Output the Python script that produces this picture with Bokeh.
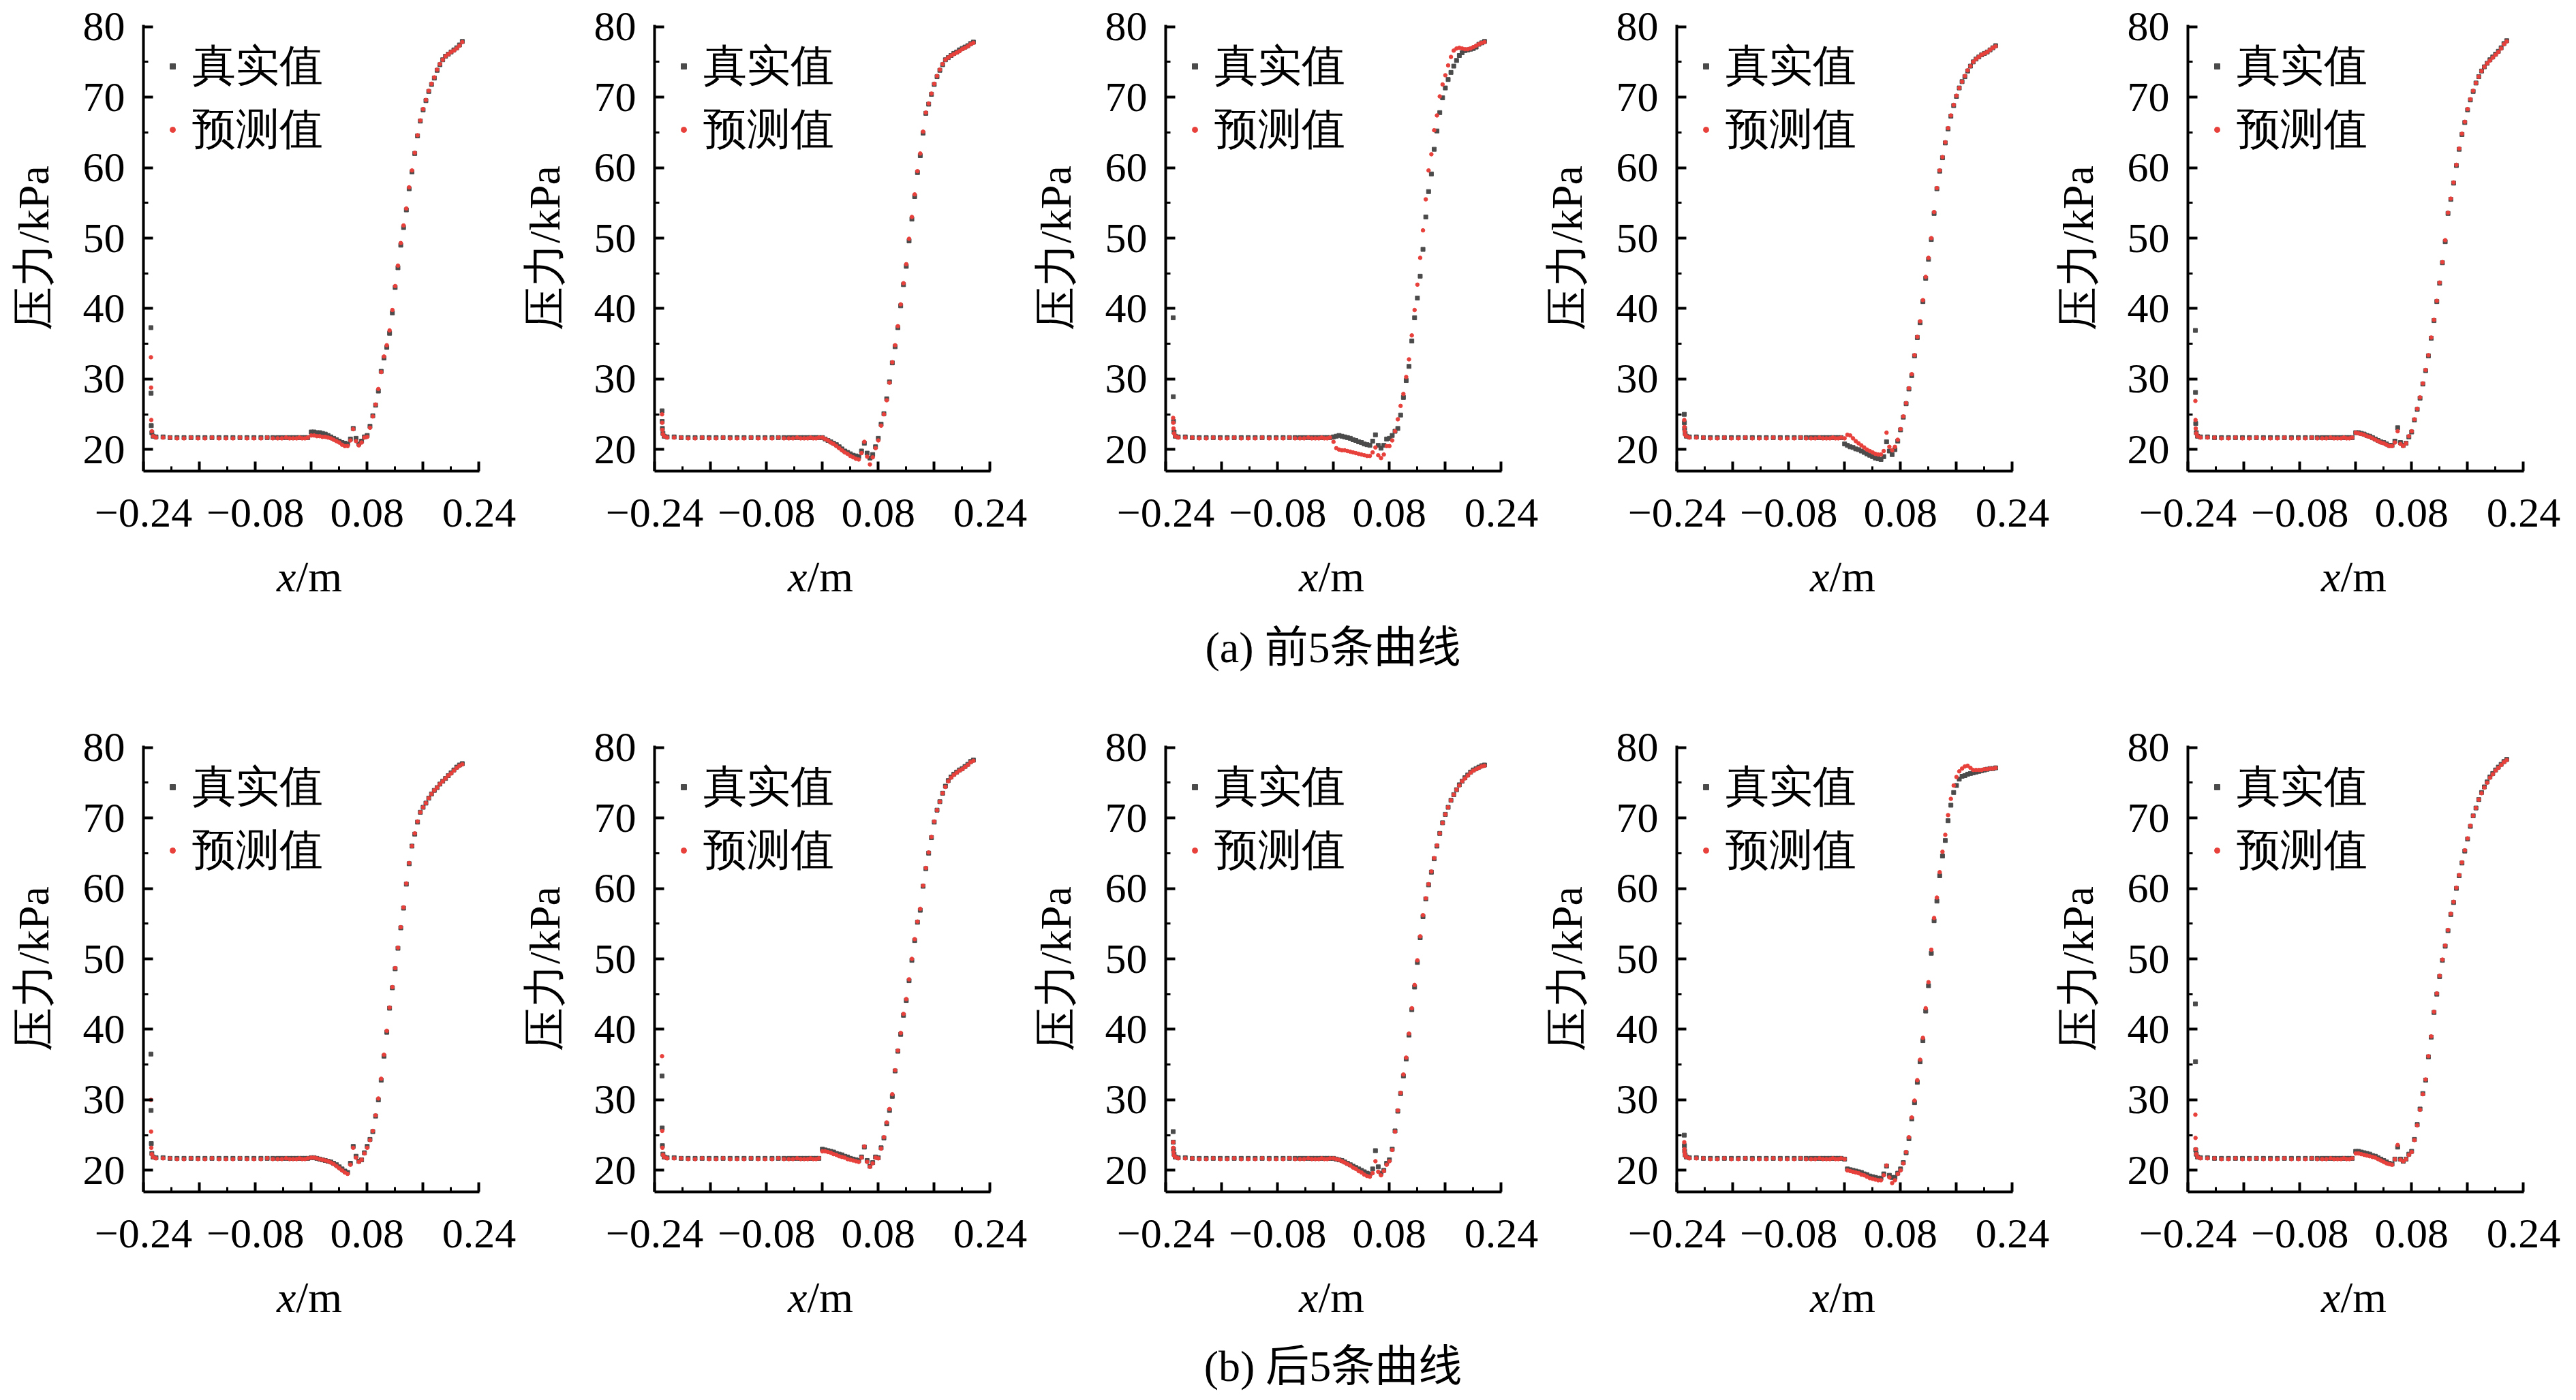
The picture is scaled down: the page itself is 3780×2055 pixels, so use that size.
from bokeh.plotting import figure
from bokeh.layouts import column, row
from bokeh.models import FixedTicker, Legend, LegendItem, Div, Range1d, Spacer
from bokeh.embed import file_html
from bokeh.resources import INLINE

FONT = "Liberation Serif"
GRAY = "#4b4b4b"
RED = "#e8413c"
NAN = float("nan")

# ---------------- data (x in m, pressure in kPa) ----------------
HEAD_X = [-0.2293, -0.2291, -0.2288, -0.2280, -0.2262]
FLAT_X = [-0.222, -0.212, -0.202, -0.192, -0.182, -0.172, -0.162, -0.152, -0.142, -0.132,
          -0.122, -0.112, -0.102, -0.092, -0.082, -0.072, -0.063, -0.055, -0.048, -0.042,
          -0.036, -0.031, -0.026, -0.021, -0.017, -0.013, -0.009, -0.005]
FLAT_TRUE = [21.8, 21.8, 21.7, 21.7, 21.7, 21.7, 21.7, 21.7, 21.7, 21.7,
             21.7, 21.7, 21.7, 21.7, 21.7, 21.7, 21.7, 21.7, 21.7, 21.7,
             21.7, 21.7, 21.7, 21.7, 21.7, 21.7, 21.7, 21.7]
FLAT_PRED = [21.7, 21.7, 21.7, 21.6, 21.6, 21.7, 21.6, 21.6, 21.7, 21.6,
             21.6, 21.6, 21.7, 21.6, 21.6, 21.6, 21.7, 21.6, 21.6, 21.6,
             21.7, 21.6, 21.6, 21.6, 21.7, 21.6, 21.6, 21.7]
BUMP_X = [0.000, 0.004, 0.008, 0.012, 0.016, 0.020, 0.024, 0.028, 0.032, 0.036,
          0.040, 0.044, 0.048, 0.052, 0.056, 0.060, 0.064, 0.068, 0.072, 0.076]
RISE_X = [0.080, 0.084, 0.088, 0.092, 0.096, 0.100, 0.104, 0.108, 0.112, 0.116,
          0.120, 0.124, 0.128, 0.132, 0.136, 0.140, 0.144, 0.148, 0.152, 0.156,
          0.160, 0.164, 0.168, 0.172, 0.176, 0.180, 0.184, 0.188, 0.192, 0.196,
          0.200, 0.204, 0.208, 0.212, 0.216]

HEAD_TRUE = [
    [37.3, 28.0, 23.4, 22.4, 21.9],
    [25.5, 24.0, 23.0, 22.3, 21.9],
    [38.7, 27.5, 24.0, 22.5, 21.9],
    [25.0, 23.8, 23.0, 22.3, 21.9],
    [36.9, 28.1, 23.7, 22.4, 21.9],
    [36.5, 28.5, 23.8, 22.4, 21.9],
    [33.4, 26.0, 23.5, 22.3, 21.9],
    [25.5, 24.0, 23.0, 22.3, 21.9],
    [25.0, 23.5, 22.8, 22.2, 21.9],
    [43.6, 35.4, 22.9, 22.3, 21.9],
]
HEAD_PRED = [
    [33.1, 28.8, 24.2, 22.6, 21.9],
    [25.0, 23.8, 22.8, 22.2, 21.9],
    [24.5, 23.8, 23.0, 22.3, 21.9],
    [24.2, 23.2, 22.6, 22.1, 21.9],
    [26.9, 24.2, 23.0, 22.3, 21.9],
    [30.0, 25.5, 23.2, 22.3, 21.9],
    [36.2, 25.6, 23.2, 22.2, 21.9],
    [24.0, 23.2, 22.6, 22.1, 21.9],
    [24.0, 23.0, 22.5, 22.1, 21.9],
    [27.9, 24.6, 23.0, 22.3, 21.9],
]
BUMP_TRUE = [
    [22.5, 22.5, 22.4, 22.4, 22.3, 22.2, 22.0, 21.8, 21.6, 21.4, 21.2, 21.0, 20.9, 20.8, 21.5, 23.0, 21.6, 20.8, 21.2, 21.8],
    [21.7, 21.5, 21.3, 21.1, 20.9, 20.7, 20.4, 20.1, 19.8, 19.6, 19.4, 19.2, 19.1, 19.0, 19.8, 20.9, 19.5, 18.8, 19.3, 20.4],
    [21.8, 21.9, 22.0, 21.9, 21.8, 21.7, 21.6, 21.4, 21.3, 21.1, 21.0, 20.8, 20.7, 20.6, 21.2, 22.1, 20.6, 20.2, 20.6, 21.5],
    [20.8, 20.6, 20.4, 20.3, 20.1, 20.0, 19.8, 19.6, 19.4, 19.2, 19.0, 18.8, 18.7, 18.6, 19.0, 21.1, 19.8, 19.3, 20.0, 21.2],
    [22.4, 22.4, 22.3, 22.2, 22.0, 21.9, 21.7, 21.5, 21.3, 21.1, 21.0, 20.8, 20.6, 20.6, 21.2, 23.1, 21.0, 20.6, 20.9, 21.8],
    [21.8, 21.8, 21.7, 21.6, 21.5, 21.4, 21.3, 21.2, 21.0, 20.8, 20.5, 20.2, 19.9, 19.7, 21.0, 23.4, 22.0, 21.3, 21.5, 22.5],
    [23.0, 22.9, 22.8, 22.7, 22.6, 22.4, 22.3, 22.2, 22.0, 21.9, 21.7, 21.6, 21.5, 21.4, 21.9, 23.3, 21.4, 20.6, 21.1, 21.9],
    [21.7, 21.6, 21.5, 21.4, 21.2, 21.0, 20.8, 20.6, 20.4, 20.2, 20.0, 19.8, 19.6, 19.5, 20.2, 22.8, 20.5, 19.6, 20.0, 21.0],
    [21.6, 20.2, 20.1, 20.0, 19.9, 19.8, 19.7, 19.5, 19.4, 19.2, 19.1, 19.0, 18.9, 18.9, 19.5, 20.6, 19.3, 19.0, 19.0, 19.6],
    [22.7, 22.7, 22.6, 22.5, 22.4, 22.3, 22.1, 22.0, 21.8, 21.6, 21.4, 21.2, 21.0, 20.9, 21.6, 23.3, 21.6, 21.3, 21.6, 22.3],
]
BUMP_PRED = [
    [22.0, 22.0, 21.9, 21.9, 21.8, 21.8, 21.7, 21.6, 21.4, 21.2, 21.0, 20.7, 20.5, 20.5, 21.3, 22.9, 21.2, 20.6, 21.0, 21.7],
    [21.7, 21.5, 21.3, 21.0, 20.8, 20.5, 20.2, 19.9, 19.6, 19.4, 19.1, 18.9, 18.7, 18.6, 19.5, 21.1, 19.0, 17.9, 18.9, 20.2],
    [21.1, 20.2, 20.0, 19.9, 19.9, 19.8, 19.7, 19.6, 19.5, 19.4, 19.3, 19.2, 19.1, 19.1, 19.6, 20.3, 19.2, 18.8, 19.3, 20.5],
    [21.6, 22.1, 22.0, 21.6, 21.2, 20.9, 20.6, 20.3, 20.0, 19.8, 19.6, 19.4, 19.3, 19.3, 19.8, 22.4, 20.4, 19.9, 20.4, 21.4],
    [22.4, 22.3, 22.2, 22.1, 21.9, 21.8, 21.6, 21.4, 21.2, 21.0, 20.9, 20.7, 20.5, 20.5, 21.0, 22.6, 20.8, 20.5, 20.9, 21.9],
    [21.8, 21.8, 21.7, 21.6, 21.5, 21.4, 21.3, 21.1, 20.9, 20.6, 20.3, 20.0, 19.7, 19.5, 20.8, 23.2, 21.8, 21.2, 21.5, 22.4],
    [22.7, 22.7, 22.6, 22.5, 22.3, 22.2, 22.0, 21.9, 21.8, 21.6, 21.5, 21.4, 21.3, 21.2, 21.8, 23.4, 21.2, 20.5, 21.0, 21.8],
    [21.7, 21.6, 21.5, 21.3, 21.1, 20.9, 20.7, 20.4, 20.2, 19.9, 19.7, 19.4, 19.2, 19.1, 19.6, 21.3, 19.8, 19.3, 19.9, 20.8],
    [21.6, 20.0, 19.9, 19.8, 19.7, 19.6, 19.4, 19.3, 19.1, 18.9, 18.8, 18.7, 18.6, 18.6, 19.3, 20.7, 19.0, 18.2, 18.6, 19.5],
    [22.4, 22.4, 22.3, 22.2, 22.1, 22.0, 21.9, 21.8, 21.6, 21.4, 21.2, 21.0, 20.9, 20.8, 21.6, 23.6, 21.5, 21.3, 21.6, 22.2],
]
RISE_TRUE = [
    [22.0, 23.3, 24.8, 26.3, 28.3, 31.1, 33.0, 34.5, 36.5, 39.4, 43.0, 45.8, 49.0, 51.5, 54.0, 57.0, 59.4, 62.0, 64.5, 66.6,
     68.2, 69.5, 70.8, 71.8, 72.7, 73.8, 74.6, 75.3, 75.8, 76.1, 76.4, 76.7, 77.0, 77.4, 77.9],
    [21.6, 23.6, 25.1, 27.2, 29.6, 32.3, 34.6, 37.3, 40.4, 43.4, 46.0, 49.6, 52.7, 55.9, 59.3, 61.7, 64.9, 67.7, 69.0, 70.4,
     71.8, 72.9, 73.8, 74.6, 75.3, 75.6, 75.9, 76.2, 76.4, 76.7, 76.9, 77.1, 77.3, 77.6, 77.8],
    [21.6, 22.0, 22.6, 23.0, 24.9, 27.4, 29.8, 31.8, 35.4, 38.7, 41.5, 44.6, 48.4, 53.0, 56.6, 59.1, 62.6, 65.2, 67.8, 69.9,
     71.3, 72.5, 73.5, 74.4, 75.2, 75.9, 76.3, 76.6, 76.7, 76.8, 76.9, 77.1, 77.5, 77.7, 77.9],
    [22.8, 24.6, 26.5, 28.6, 30.5, 33.3, 35.9, 38.0, 41.0, 44.3, 47.0, 49.8, 53.5, 57.0, 59.5, 61.4, 63.5, 65.5, 67.3, 68.8,
     70.1, 71.3, 72.2, 72.9, 73.7, 74.4, 75.0, 75.4, 75.7, 76.0, 76.2, 76.4, 76.7, 77.0, 77.3],
    [22.5, 24.2, 25.7, 27.3, 29.3, 31.2, 33.3, 35.8, 38.3, 41.0, 43.6, 46.5, 49.5, 53.5, 55.5, 57.8, 60.3, 62.6, 64.7, 66.4,
     68.2, 69.6, 70.8, 72.0, 72.9, 73.7, 74.3, 74.8, 75.3, 75.7, 76.1, 76.5, 77.0, 77.6, 78.0],
    [23.4, 24.4, 25.5, 27.7, 30.0, 32.8, 36.2, 39.6, 43.0, 45.9, 48.6, 51.5, 54.4, 57.2, 60.6, 63.5, 66.0, 67.7, 69.4, 70.8,
     71.5, 72.1, 72.8, 73.4, 73.9, 74.3, 74.8, 75.2, 75.6, 76.0, 76.4, 76.8, 77.2, 77.5, 77.7],
    [21.8, 23.2, 24.6, 26.6, 28.5, 30.5, 34.1, 36.9, 39.3, 42.0, 44.1, 46.9, 49.8, 52.6, 55.2, 56.9, 60.3, 62.8, 65.0, 67.2,
     69.4, 71.1, 72.3, 73.5, 74.5, 75.3, 75.8, 76.2, 76.5, 76.8, 77.0, 77.3, 77.6, 78.0, 78.2],
    [21.5, 23.0, 25.6, 28.4, 30.9, 33.4, 35.8, 39.2, 42.8, 46.0, 49.5, 53.0, 56.0, 58.5, 60.5, 62.3, 64.2, 66.0, 67.8, 69.3,
     70.5, 71.5, 72.5, 73.3, 74.0, 74.7, 75.2, 75.7, 76.1, 76.5, 76.8, 77.0, 77.2, 77.4, 77.5],
    [20.2, 21.1, 22.5, 24.5, 27.3, 29.6, 32.5, 35.4, 38.4, 42.6, 46.2, 50.8, 55.4, 58.2, 61.8, 64.6, 66.8, 69.6, 71.8, 73.6,
     74.6, 75.5, 75.9, 76.0, 76.2, 76.3, 76.4, 76.5, 76.6, 76.7, 76.8, 76.9, 77.0, 77.0, 77.1],
    [22.7, 24.4, 26.5, 28.7, 30.9, 32.8, 36.1, 38.9, 42.4, 45.0, 47.5, 49.8, 51.8, 54.0, 56.3, 58.0, 60.0, 61.8, 63.6, 65.3,
     67.0, 68.8, 70.3, 71.4, 72.6, 73.6, 74.4, 75.1, 75.8, 76.3, 76.8, 77.2, 77.6, 78.0, 78.3],
]
RISE_PRED = [
    [21.8, 23.1, 24.7, 26.4, 28.6, 31.0, 33.2, 34.8, 36.9, 39.8, 43.2, 46.1, 49.3, 51.8, 54.2, 57.2, 59.6, 62.1, 64.6, 66.7,
     68.3, 69.6, 70.9, 71.9, 72.8, 73.9, 74.7, 75.3, 75.8, 76.1, 76.4, 76.6, 76.9, 77.3, 77.8],
    [21.3, 23.4, 25.0, 27.0, 29.5, 32.4, 34.8, 37.5, 40.6, 43.6, 46.3, 49.9, 53.0, 56.2, 59.5, 62.0, 65.1, 67.8, 69.1, 70.5,
     71.9, 73.0, 73.9, 74.7, 75.3, 75.6, 75.9, 76.1, 76.3, 76.5, 76.8, 77.0, 77.2, 77.5, 77.7],
    [20.5, 21.3, 22.6, 24.3, 26.2, 27.9, 30.3, 32.8, 36.2, 39.8, 43.4, 47.2, 51.1, 55.5, 59.6, 61.9, 65.3, 67.4, 70.1, 71.8,
     73.1, 74.5, 75.7, 76.6, 76.9, 77.0, 76.9, 76.8, 76.8, 76.9, 77.1, 77.3, 77.5, 77.7, 77.8],
    [22.9, 24.7, 26.6, 28.7, 30.7, 33.4, 36.0, 38.2, 41.2, 44.5, 47.2, 50.0, 53.7, 57.1, 59.6, 61.5, 63.6, 65.6, 67.4, 68.9,
     70.2, 71.3, 72.2, 73.0, 73.8, 74.4, 75.0, 75.4, 75.7, 76.0, 76.2, 76.4, 76.7, 77.0, 77.2],
    [22.6, 24.3, 25.8, 27.4, 29.4, 31.3, 33.4, 35.9, 38.4, 41.1, 43.7, 46.6, 49.7, 53.6, 55.6, 57.9, 60.4, 62.7, 64.8, 66.5,
     68.3, 69.7, 70.9, 72.0, 72.9, 73.7, 74.3, 74.8, 75.2, 75.6, 76.0, 76.4, 76.9, 77.5, 77.9],
    [23.2, 24.3, 25.6, 27.8, 30.2, 33.0, 36.4, 39.8, 43.1, 46.0, 48.7, 51.6, 54.5, 57.3, 60.7, 63.6, 66.0, 67.8, 69.5, 70.8,
     71.5, 72.1, 72.8, 73.4, 73.9, 74.3, 74.8, 75.2, 75.6, 76.0, 76.3, 76.7, 77.1, 77.4, 77.6],
    [21.7, 23.1, 24.7, 26.8, 28.7, 30.8, 34.2, 37.0, 39.5, 42.2, 44.3, 47.1, 50.0, 52.8, 55.3, 57.1, 60.4, 62.9, 65.1, 67.3,
     69.5, 71.1, 72.3, 73.5, 74.4, 75.2, 75.7, 76.1, 76.4, 76.7, 76.9, 77.2, 77.5, 77.9, 78.1],
    [21.3, 22.9, 25.5, 28.5, 31.0, 33.6, 36.0, 39.4, 43.0, 46.3, 49.8, 53.2, 56.2, 58.6, 60.6, 62.4, 64.3, 66.1, 67.8, 69.3,
     70.5, 71.5, 72.5, 73.3, 74.0, 74.6, 75.2, 75.6, 76.0, 76.4, 76.7, 76.9, 77.1, 77.3, 77.4],
    [20.0, 21.0, 22.6, 24.7, 27.5, 29.9, 32.8, 35.7, 38.8, 43.0, 46.7, 51.3, 55.8, 58.7, 62.3, 65.2, 67.6, 70.4, 72.7, 74.6,
     75.8, 76.6, 77.0, 77.3, 77.4, 77.1, 76.8, 76.8, 76.8, 76.8, 76.9, 76.9, 77.0, 77.0, 77.1],
    [22.6, 24.3, 26.4, 28.6, 30.8, 32.9, 36.2, 39.0, 42.5, 45.1, 47.6, 49.9, 51.9, 54.1, 56.4, 58.1, 60.1, 61.9, 63.7, 65.4,
     67.1, 68.9, 70.3, 71.4, 72.6, 73.5, 74.3, 75.0, 75.7, 76.2, 76.7, 77.1, 77.5, 77.9, 78.2],
]

SERIES_NAMES = ["真实值", "预测值"]
Y_TICKS = [20, 30, 40, 50, 60, 70, 80]
Y_MINOR = [25, 35, 45, 55, 65, 75]
X_TICKS = [-0.24, -0.16, -0.08, 0.0, 0.08, 0.16, 0.24]
X_MINOR = [-0.2, -0.12, -0.04, 0.04, 0.12, 0.2]
X_LABELS = {-0.24: "\u22120.24", -0.16: "", -0.08: "\u22120.08", 0.0: "", 0.08: "0.08", 0.16: "", 0.24: "0.24"}
CAPTIONS = ["(a) 前5条曲线", "(b) 后5条曲线"]

FRAME_W, FRAME_H = 493, 655
Y0, Y1 = 16.95, 80.25
PANEL_W = 750
BORDER_L, BORDER_R, BORDER_T, BORDER_B = 201, 56, 36, 115
LEFT_PAD = 9
CSS_FONT = "font-family:'Liberation Serif','Noto Sans CJK SC',serif;font-size:64px;line-height:64px;color:black;"


def make_panel(i):
    p = figure(frame_width=FRAME_W, frame_height=FRAME_H,
               x_range=Range1d(-0.24, 0.2405), y_range=Range1d(Y0, Y1),
               output_backend="svg", toolbar_location=None,
               min_border_left=BORDER_L, min_border_right=BORDER_R,
               min_border_top=BORDER_T, min_border_bottom=BORDER_B, margin=0)
    p.outline_line_color = None
    p.grid.visible = False
    p.background_fill_color = "white"
    p.border_fill_color = "white"

    xs = HEAD_X + FLAT_X + BUMP_X + RISE_X
    yt = HEAD_TRUE[i] + FLAT_TRUE + BUMP_TRUE[i] + RISE_TRUE[i]
    yp = HEAD_PRED[i] + FLAT_PRED + BUMP_PRED[i] + RISE_PRED[i]
    p.scatter(xs, yt, marker="square", size=6, color=GRAY)
    p.scatter(xs, yp, marker="circle", size=5.5, color=RED)

    # legend-only renderers (larger markers, as in the reference legend); NaN = not drawn in plot
    r1 = p.scatter(x=[NAN], y=[NAN], marker="square", size=10, color=GRAY)
    r2 = p.scatter(x=[NAN], y=[NAN], marker="circle", size=11, color=RED)
    leg = Legend(items=[LegendItem(label=SERIES_NAMES[0], renderers=[r1]),
                        LegendItem(label=SERIES_NAMES[1], renderers=[r2])],
                 location="top_left", margin=17, padding=41, spacing=6,
                 glyph_width=52, glyph_height=20, label_standoff=3,
                 border_line_color=None, background_fill_alpha=0,
                 label_text_font=FONT, label_text_font_size="64px", label_text_color="black")
    p.add_layout(leg)

    for ax in (p.xaxis[0], p.yaxis[0]):
        ax.axis_line_width = 4
        ax.axis_line_color = "black"
        ax.major_tick_line_width = 4
        ax.minor_tick_line_width = 3
        ax.major_tick_in = 14
        ax.major_tick_out = 0
        ax.minor_tick_in = 7
        ax.minor_tick_out = 0
        ax.major_label_text_font = FONT
        ax.major_label_text_font_size = "62px"
        ax.major_label_text_color = "black"

    p.yaxis.major_label_standoff = 27
    p.xaxis.major_label_standoff = 41
    p.yaxis.ticker = FixedTicker(ticks=Y_TICKS, minor_ticks=Y_MINOR)
    p.xaxis.ticker = FixedTicker(ticks=X_TICKS, minor_ticks=X_MINOR)
    p.xaxis.major_label_overrides = X_LABELS

    p.yaxis.axis_label = "压力/kPa"
    p.yaxis.axis_label_text_font = FONT
    p.yaxis.axis_label_text_font_size = "64px"
    p.yaxis.axis_label_text_font_style = "normal"
    p.yaxis.axis_label_text_color = "black"
    p.yaxis.axis_label_standoff = 34
    return p


def xtitle():
    style = CSS_FONT + ("text-align:center;width:750px;box-sizing:border-box;"
                        "padding-left:140px;padding-top:9px;white-space:nowrap;")
    return Div(text=f'<div style="{style}"><i>x</i>/m</div>', width=PANEL_W, height=85, margin=0)


def caption(text, height, pad_top):
    style = CSS_FONT + ("text-align:center;width:3750px;box-sizing:border-box;"
                        f"padding-left:162px;padding-top:{pad_top}px;white-space:nowrap;")
    return Div(text=f'<div style="{style}">{text}</div>', width=3750, height=height, margin=0)


def panel_row(indices):
    return row(Spacer(width=LEFT_PAD, height=10, margin=0), *[make_panel(i) for i in indices],
               spacing=0, margin=0)


def title_row():
    return row(Spacer(width=LEFT_PAD, height=10, margin=0), *[xtitle() for _ in range(5)],
               spacing=0, margin=0)


layout = column(panel_row(range(5)), title_row(), caption(CAPTIONS[0], 167, 28),
                panel_row(range(5, 10)), title_row(), caption(CAPTIONS[1], 90, 25),
                spacing=0, margin=0)

open("out.html", "w").write(file_html(layout, INLINE))
